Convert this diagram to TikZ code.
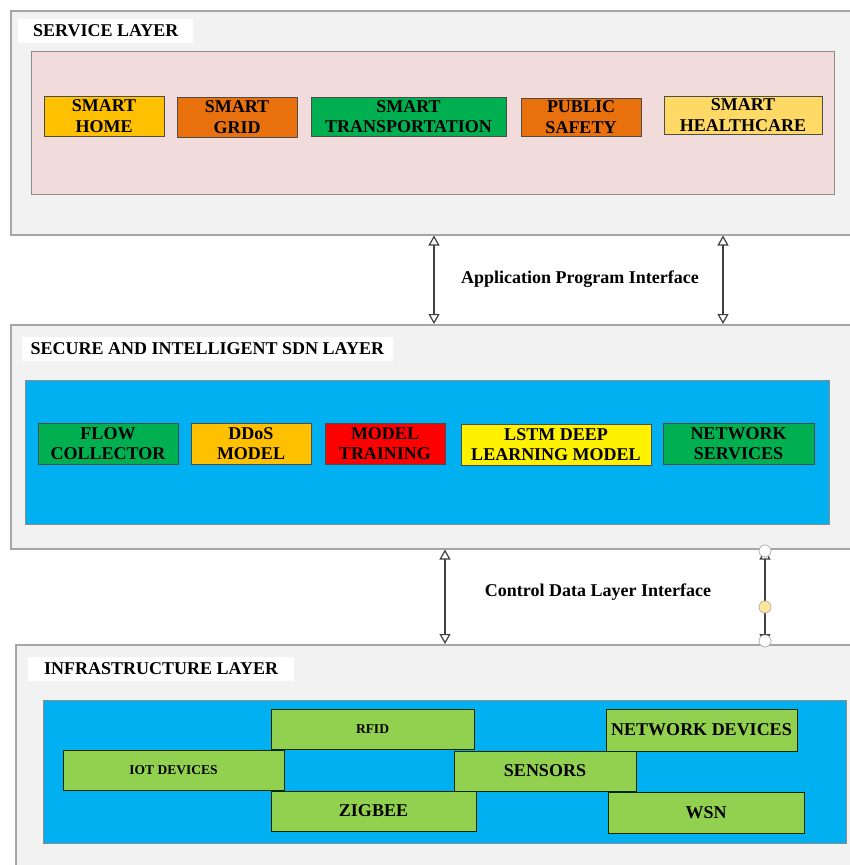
\documentclass[tikz,border=0pt]{standalone}
\usepackage{fontspec}
\setmainfont{Liberation Serif}
\usetikzlibrary{arrows.meta}
\definecolor{panelgray}{HTML}{F2F2F2}
\definecolor{rosepink}{HTML}{F2DCDB}
\definecolor{cyanblue}{HTML}{00B0F0}
\definecolor{amber}{HTML}{FFC000}
\definecolor{pumpkin}{HTML}{E8710E}
\definecolor{emerald}{HTML}{00B050}
\definecolor{butter}{HTML}{FFD966}
\definecolor{lime}{HTML}{92D050}
\definecolor{handleyellow}{HTML}{FFE699}

\begin{document}
\begin{tikzpicture}[x=1pt,y=-1pt,
  font=\bfseries\fontsize{18}{20.5}\selectfont,
  layer/.style={draw=black!35, line width=1.5pt, fill=panelgray, anchor=north west, inner sep=0pt},
  panel/.style={draw=black!45, line width=1pt, anchor=north west, inner sep=0pt},
  layertitle/.style={fill=white, anchor=west, inner ysep=0pt, minimum height=24pt},
  tile/.style={draw=black!70, line width=0.9pt, inner sep=0pt, align=center, minimum height=40pt},
  infratile/.style={tile, fill=lime, draw=black!60!green!40!black},
  biarrow/.style={{Triangle[open,length=10pt,width=11pt]}-{Triangle[open,length=10pt,width=11pt]}, draw=black!75, line width=1.2pt},
  handle/.style={circle, draw=black!30, fill=white, line width=0.8pt, minimum size=12pt, inner sep=0pt}]
\useasboundingbox (0,0) rectangle (850,865);
\clip (0,0) rectangle (850,865);
\fill[white] (0,0) rectangle (850,865);

\node[layer, minimum width=845pt, minimum height=224pt] (service) at (10,10) {};
\node[layertitle, inner xsep=15pt] (servicetitle) at (18,31) {SERVICE LAYER};
\node[panel, fill=rosepink, minimum width=803pt, minimum height=143pt] (servicepanel) at (31,51) {};
\node[tile, fill=amber, minimum width=120pt] (home) at (104,116) {SMART\\HOME};
\node[tile, fill=pumpkin, minimum width=120pt] (grid) at (237,117) {SMART\\GRID};
\node[tile, fill=emerald, minimum width=195pt, minimum height=39pt] (transport) at (408.5,116.5) {SMART\\TRANSPORTATION};
\node[tile, fill=pumpkin, minimum width=120pt, minimum height=38pt] (safety) at (581,117) {PUBLIC\\SAFETY};
\node[tile, fill=butter, minimum width=158pt, minimum height=38pt] (health) at (743,115) {SMART\\HEALTHCARE};

\node[layer, minimum width=845pt, minimum height=224pt] (sdn) at (10,324) {};
\node[layertitle, inner xsep=8.5pt] (sdntitle) at (22,349) {SECURE AND INTELLIGENT SDN LAYER};
\node[panel, fill=cyanblue, minimum width=804pt, minimum height=144pt] (sdnpanel) at (25,380) {};
\node[tile, fill=emerald, minimum width=140pt, minimum height=41pt] (flow) at (108,443.5) {FLOW\\COLLECTOR};
\node[tile, fill=amber, minimum width=120pt, minimum height=41pt] (ddos) at (251,443.5) {DDoS\\MODEL};
\node[tile, fill=red, minimum width=120pt, minimum height=41pt] (training) at (385,443.5) {MODEL\\TRAINING};
\node[tile, fill=yellow, minimum width=190pt, minimum height=41pt] (lstm) at (556,444.5) {LSTM DEEP\\LEARNING MODEL};
\node[tile, fill=emerald, minimum width=151pt, minimum height=41pt] (netsvc) at (738.5,443.5) {NETWORK\\SERVICES};

\node[layer, minimum width=845pt, minimum height=230pt] (infra) at (15,644) {};
\node[layertitle, inner xsep=16pt] (infratitle) at (28,668.5) {INFRASTRUCTURE LAYER};
\node[panel, fill=cyanblue, minimum width=803pt, minimum height=143pt] (infrapanel) at (43,700) {};
\node[infratile, minimum width=203pt, font=\bfseries\fontsize{13.5}{15}\selectfont] (rfid) at (372.5,729) {RFID};
\node[infratile, minimum width=221pt, font=\bfseries\fontsize{13.5}{15}\selectfont] (iot) at (173.5,770) {IOT DEVICES};
\node[infratile, minimum width=205pt] (zigbee) at (373.5,811) {ZIGBEE};
\node[infratile, minimum width=182pt] (sensors) at (545,771) {SENSORS};
\node[infratile, minimum width=191pt, minimum height=42pt] (netdev) at (701.5,730) {NETWORK DEVICES};
\node[infratile, minimum width=196pt, minimum height=41pt] (wsn) at (706,812.5) {WSN};

\coordinate (apileft) at (434,0);
\coordinate (apiright) at (723,0);
\coordinate (cdlleft) at (445,0);
\coordinate (cdlright) at (765,0);
\draw[biarrow] (apileft |- service.south) -- (apileft |- sdn.north);
\draw[biarrow] (apiright |- service.south) -- (apiright |- sdn.north);
\node (api) at (580,279) {Application Program Interface};
\draw[biarrow] (cdlleft |- sdn.south) -- (cdlleft |- infra.north);
\draw[biarrow] (cdlright |- sdn.south) -- (cdlright |- infra.north);
\node (cdl) at (598,592) {Control Data Layer Interface};
\node[handle] (handletop) at (765,551) {};
\node[handle, fill=handleyellow] (handlemid) at (765,607) {};
\node[handle] (handlebottom) at (765,641) {};
\end{tikzpicture}
\end{document}
